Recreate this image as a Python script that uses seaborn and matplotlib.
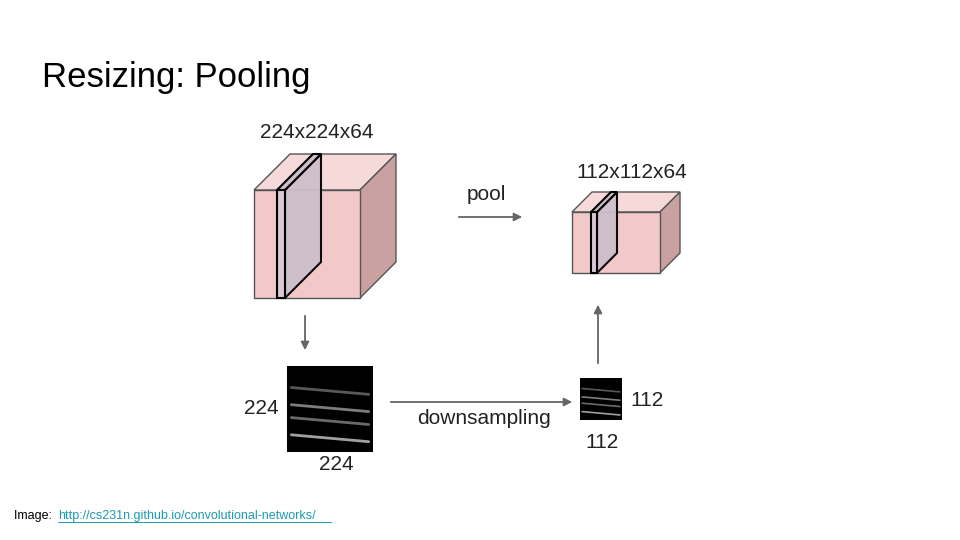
import matplotlib
matplotlib.use("Agg")
import matplotlib.pyplot as plt
import seaborn as sns
from matplotlib.patches import Polygon, Rectangle

sns.set_theme(style="white")
plt.rcParams['font.family'] = ['Liberation Sans', 'DejaVu Sans']

# volume labels and sizes
volume_labels = ["224x224x64", "112x112x64"]
slice_labels = ["224", "112"]
arrow_labels = ["pool", "downsampling"]

fig = plt.figure(figsize=(9.6, 5.4), dpi=100)
ax = fig.add_axes([0, 0, 1, 1])
ax.set_xlim(0, 960)
ax.set_ylim(540, 0)
ax.axis("off")

front_c, top_c, side_c = "#f2c8c8", "#f6dada", "#c9a1a1"
edge = "#555555"


def cube(x0, y0, w, h, d, sx, sw):
    # front, top, side faces
    ax.add_patch(Polygon([(x0, y0), (x0 + d, y0 - d), (x0 + w + d, y0 - d), (x0 + w, y0)],
                         fc=top_c, ec=edge, lw=1))
    ax.add_patch(Polygon([(x0 + w, y0), (x0 + w + d, y0 - d), (x0 + w + d, y0 + h - d), (x0 + w, y0 + h)],
                         fc=side_c, ec=edge, lw=1))
    ax.add_patch(Rectangle((x0, y0), w, h, fc=front_c, ec=edge, lw=1))
    # slice
    ax.add_patch(Polygon([(sx + sw, y0), (sx + sw + d, y0 - d), (sx + sw + d, y0 + h - d), (sx + sw, y0 + h)],
                         fc="#cdbfcc", ec="black", lw=1.5, alpha=0.95))
    ax.add_patch(Polygon([(sx, y0), (sx + d, y0 - d), (sx + sw + d, y0 - d), (sx + sw, y0)],
                         fc="#cdbfcc", ec="black", lw=1.5))
    ax.add_patch(Rectangle((sx, y0), sw, h, fc="#d8c8d4", ec="black", lw=1.5))


cube(254, 190, 106, 108, 36, 277, 8)
cube(572, 212, 88, 61, 20, 591, 6)

# feature map images
for (x, y, s, lw) in [(287, 366, 86, 1.0), (580, 378, 42, 0.6)]:
    ax.add_patch(Rectangle((x, y), s, s, fc="black", ec="none"))
    for fy, a in [(0.25, 0.5), (0.45, 0.7), (0.6, 0.6), (0.8, 0.9)]:
        ax.plot([x + s * 0.05, x + s * 0.95], [y + s * fy, y + s * (fy + 0.08)],
                color="white", alpha=a * 0.7, lw=lw * 2)

arrow = dict(arrowstyle="-|>", color="#666666", lw=1.3, mutation_scale=12)
ax.annotate("", xy=(305, 353), xytext=(305, 313), arrowprops=arrow)
ax.annotate("", xy=(525, 217), xytext=(456, 217), arrowprops=arrow)
ax.annotate("", xy=(575, 402), xytext=(388, 402), arrowprops=arrow)
ax.annotate("", xy=(598, 302), xytext=(598, 366), arrowprops=arrow)

fs = 15
ax.text(317, 133, volume_labels[0], fontsize=fs, ha="center", va="center", color="#222222")
ax.text(632, 172, volume_labels[1], fontsize=fs, ha="center", va="center", color="#222222")
ax.text(486, 195, arrow_labels[0], fontsize=fs, ha="center", va="center", color="#222222")
ax.text(484, 419, arrow_labels[1], fontsize=fs, ha="center", va="center", color="#222222")
ax.text(261, 408, slice_labels[0], fontsize=fs, ha="center", va="center", color="#222222")
ax.text(336, 465, slice_labels[0], fontsize=fs, ha="center", va="center", color="#222222")
ax.text(647, 401, slice_labels[1], fontsize=fs, ha="center", va="center", color="#222222")
ax.text(602, 443, slice_labels[1], fontsize=fs, ha="center", va="center", color="#222222")

ax.text(42, 78, "Resizing: Pooling", fontsize=25, ha="left", va="center", color="black")
ax.text(14, 516, "Image: ", fontsize=9, ha="left", va="center", color="black")
ax.text(58, 516, "http://cs231n.github.io/convolutional-networks/", fontsize=9,
        ha="left", va="center", color="#1a9bb0")
ax.plot([58, 331], [522, 522], color="#1a9bb0", lw=0.7)

fig.savefig("out.png", dpi=100)
